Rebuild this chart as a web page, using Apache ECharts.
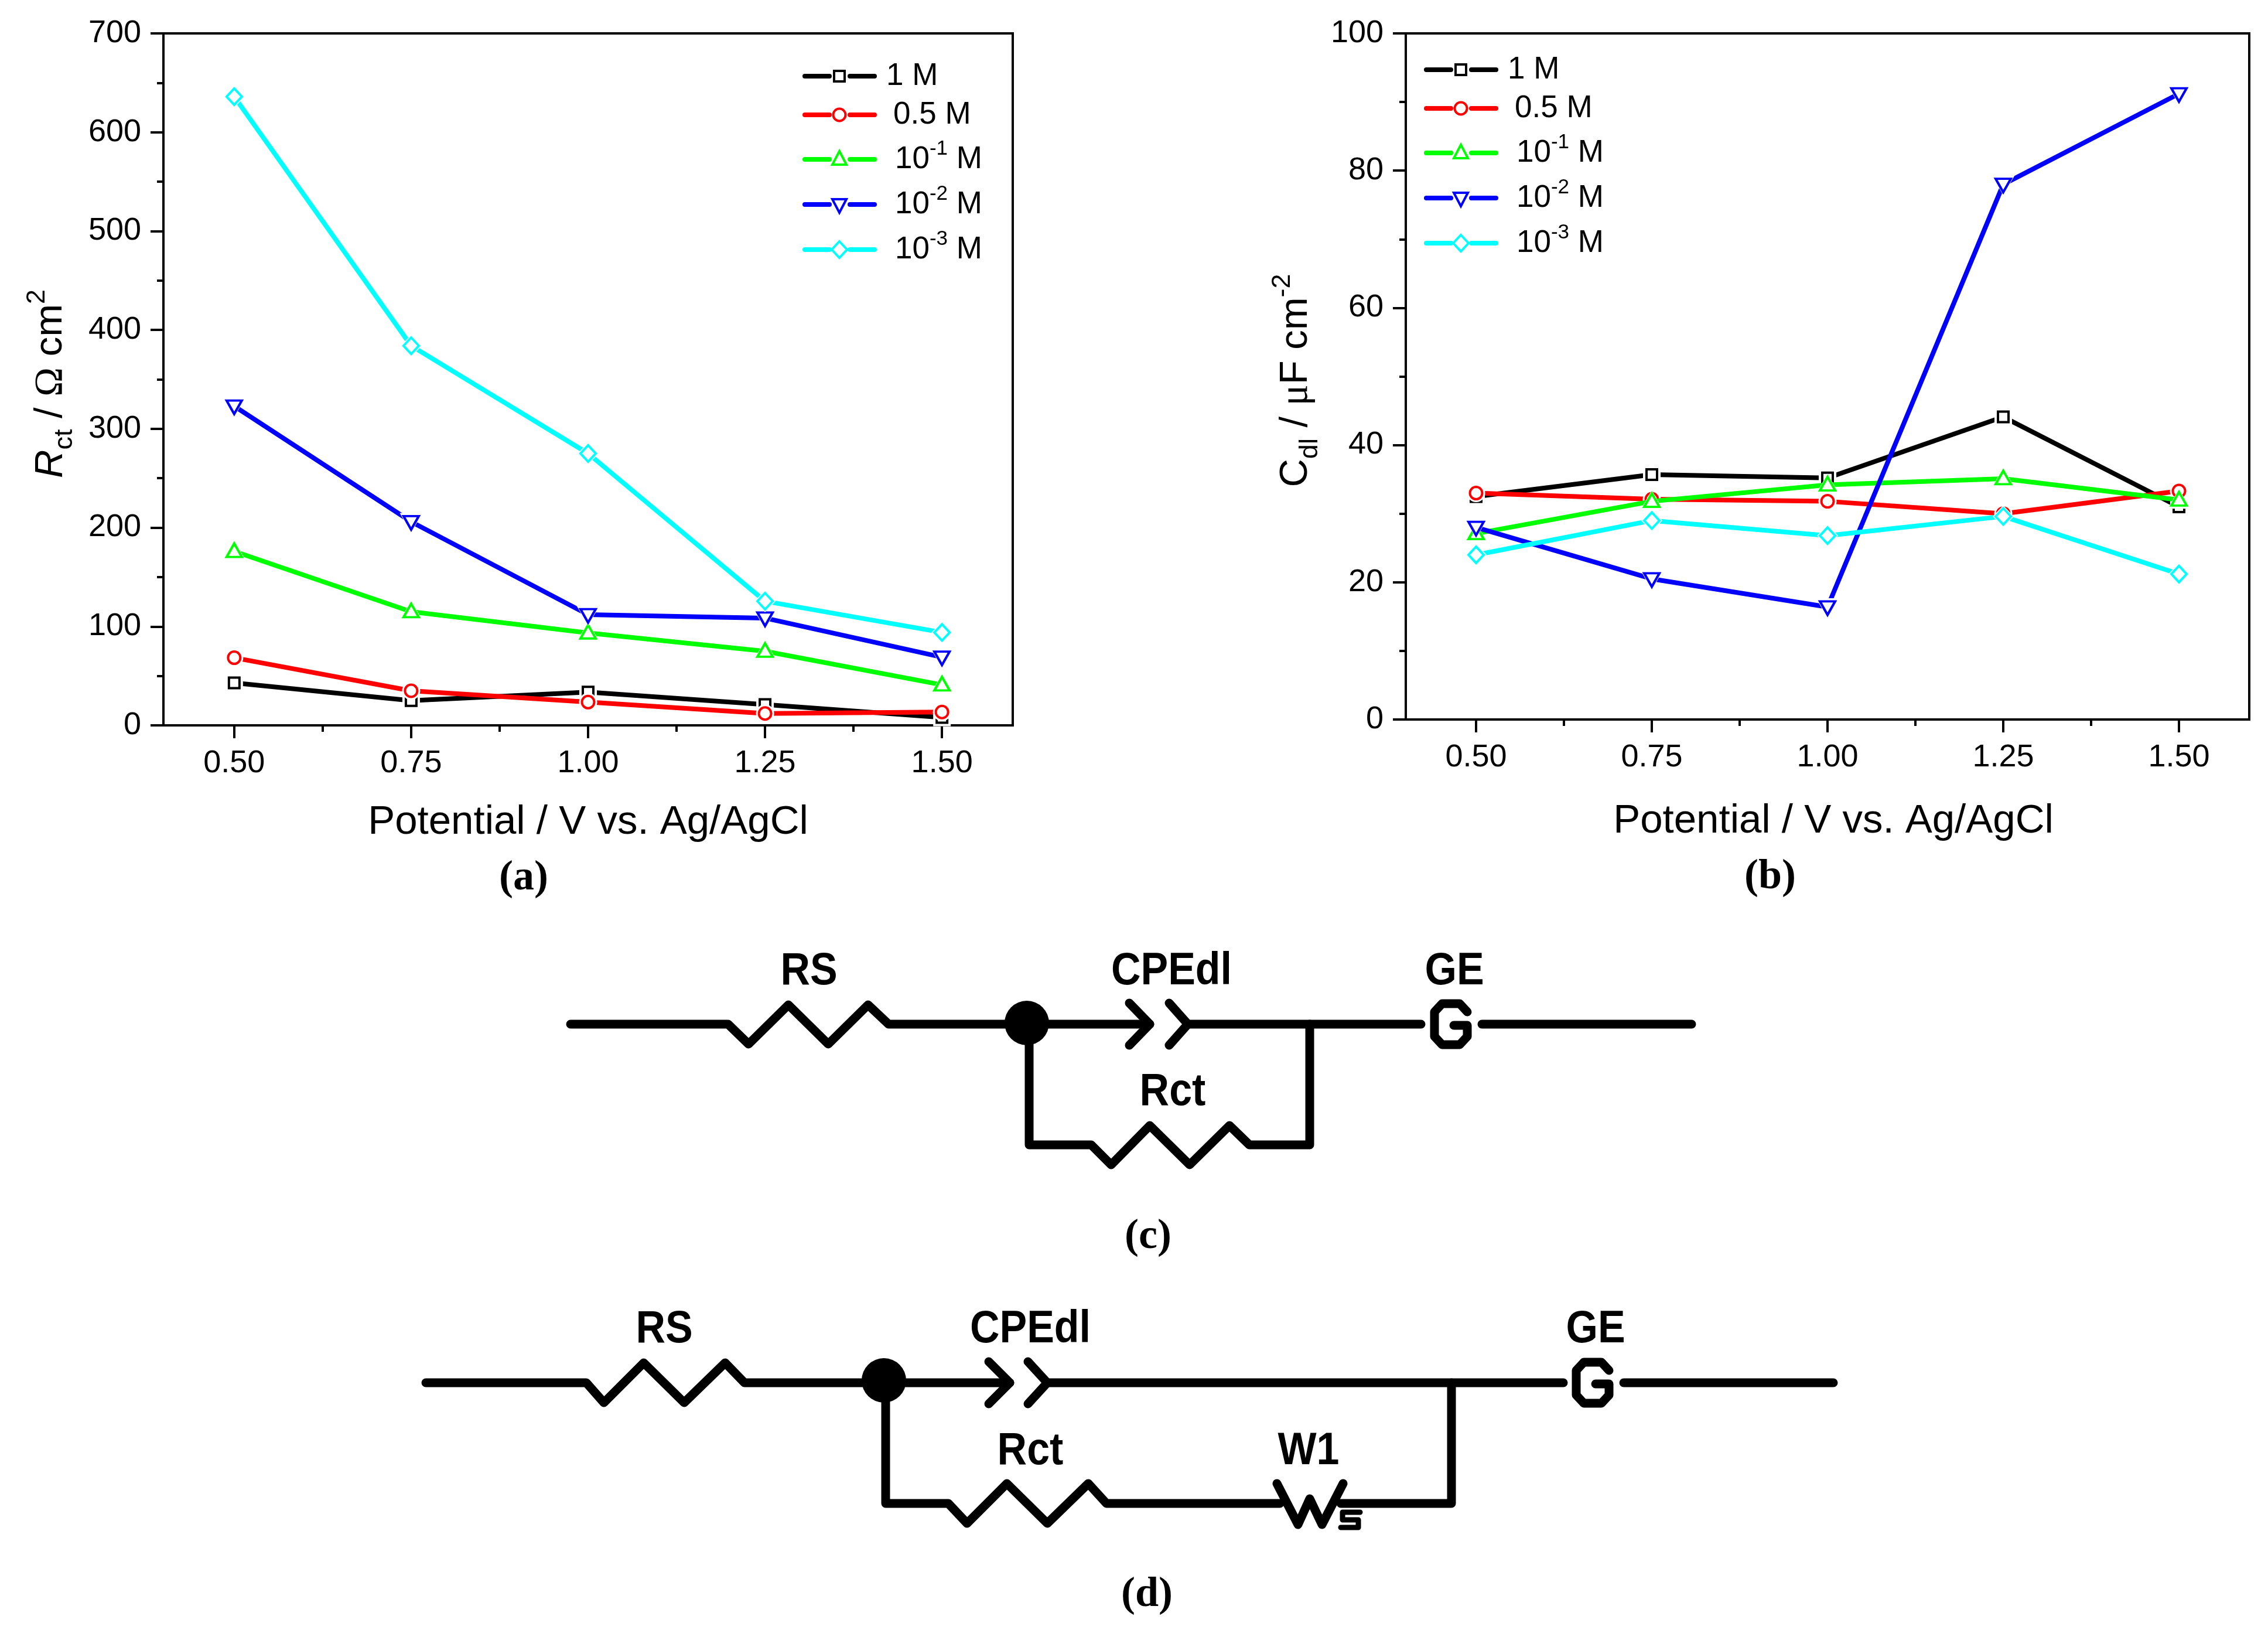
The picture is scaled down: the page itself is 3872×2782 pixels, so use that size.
<!DOCTYPE html>
<html>
<head>
<meta charset="utf-8">
<style>html,body{margin:0;padding:0;background:#fff}#c{width:3872px;height:2782px}</style>
<script src="https://cdn.jsdelivr.net/npm/echarts@6/dist/echarts.min.js"></script>
</head>
<body>
<div id="c"></div>
<script>
const potentials = [0.5, 0.75, 1.0, 1.25, 1.5];
const xTicks = [0.5, 0.75, 1.0, 1.25, 1.5];
const xMinorTicks = [0.625, 0.875, 1.125, 1.375];
const seriesNames = ['1 M', '0.5 M', '10-1 M', '10-2 M', '10-3 M'];
const seriesColors = ['#000000', '#ff0000', '#00ff00', '#0000ff', '#00ffff'];

const rct1M   = [43, 25, 33.6, 21, 8];
const rct05M  = [68.4, 35, 23.5, 12, 13.5];
const rct10m1 = [176, 115, 93.5, 75, 41];
const rct10m2 = [323, 206, 112, 108.5, 69];
const rct10m3 = [636, 384, 275, 125.6, 94];

const cdl1M   = [32.5, 35.7, 35.2, 44.1, 31];
const cdl05M  = [33, 32.1, 31.8, 30, 33.3];
const cdl10m1 = [27.1, 31.8, 34.2, 35.1, 32];
const cdl10m2 = [28, 20.5, 16.4, 78, 91.2];
const cdl10m3 = [24, 29, 26.8, 29.6, 21.2];

const rctValues = [rct1M, rct05M, rct10m1, rct10m2, rct10m3];
const cdlValues = [cdl1M, cdl05M, cdl10m1, cdl10m2, cdl10m3];

const symbols = [
  {symbol:'rect', size:[18,18], halo:[30,30], rotate:0, off:[0,0]},
  {symbol:'circle', size:[21,21], halo:[31,31], rotate:0, off:[0,0]},
  {symbol:'triangle', size:[26,23], halo:[39,34], rotate:0, off:[0,-2]},
  {symbol:'triangle', size:[26,23], halo:[39,34], rotate:180, off:[0,2]},
  {symbol:'diamond', size:[26,28], halo:[36,38], rotate:0, off:[0,0]}
];

const FONT = '"Liberation Sans", Arial, sans-serif';
const SERIF = '"Liberation Serif", "Times New Roman", serif';
const AXW = 4;

function pairs(vals){ return potentials.map((x,i)=>[x, vals[i]]); }

function buildSeries(values, axisIndex, names){
  const out = [];
  values.forEach((vals,i)=>{
    const s = symbols[i], z = 3 + i*3, col = seriesColors[i];
    out.push({type:'line', name:names[i], xAxisIndex:axisIndex*2, yAxisIndex:axisIndex, data:pairs(vals),
      showSymbol:false, symbol:'none', silent:true, z:z, animation:false,
      lineStyle:{color:col,width:8,cap:'round',join:'round'}});
    out.push({type:'scatter', name:names[i]+' halo', xAxisIndex:axisIndex*2, yAxisIndex:axisIndex, data:pairs(vals),
      symbol:s.symbol, symbolSize:s.halo, symbolRotate:s.rotate, symbolOffset:s.off, silent:true, z:z+1, animation:false,
      itemStyle:{color:'#ffffff',opacity:1}});
    out.push({type:'scatter', name:names[i]+' marker', xAxisIndex:axisIndex*2, yAxisIndex:axisIndex, data:pairs(vals),
      symbol:s.symbol, symbolSize:s.size, symbolRotate:s.rotate, symbolOffset:s.off, silent:true, z:z+2, animation:false,
      itemStyle:{color:'#ffffff',borderColor:col,borderWidth:4,opacity:1}});
  });
  return out;
}

const axisLine = {show:true,onZero:false,lineStyle:{color:'#000',width:AXW}};
function xAxes(gridIndex, namePad, gap){
  return [
    {type:'value',gridIndex,min:0.4,max:1.6,position:'bottom',
     axisLine,splitLine:{show:false},
     axisTick:{show:true,length:22,lineStyle:{color:'#000',width:AXW},customValues:xTicks},
     axisLabel:{show:true,customValues:xTicks,margin:38,color:'#000',fontFamily:FONT,fontSize:54,formatter:v=>v.toFixed(2),hideOverlap:false},
     name:'Potential / V vs. Ag/AgCl',nameLocation:'middle',nameGap:gap,nameMoveOverlap:false,
     nameTextStyle:{color:'#000',fontFamily:FONT,fontSize:69,padding:namePad}},
    {type:'value',gridIndex,min:0.4,max:1.6,position:'bottom',
     axisLine:{show:false},splitLine:{show:false},
     axisTick:{show:true,length:11,lineStyle:{color:'#000',width:AXW},customValues:xMinorTicks},
     axisLabel:{show:false}}
  ];
}
function yAxis(gridIndex,max,interval,name,rich,gap,pad){
  return {type:'value',gridIndex,min:0,max,interval,
    axisLine,splitLine:{show:false},
    axisTick:{show:true,length:22,lineStyle:{color:'#000',width:AXW}},
    minorTick:{show:true,splitNumber:2,length:11,lineStyle:{color:'#000',width:AXW}},
    minorSplitLine:{show:false},
    axisLabel:{margin:38,color:'#000',fontFamily:FONT,fontSize:54},
    name,nameLocation:'middle',nameGap:gap,nameRotate:90,nameMoveOverlap:false,
    nameTextStyle:{color:'#000',fontFamily:FONT,fontSize:67,rich,padding:pad}};
}
const nameRich = {
  n:{fontFamily:FONT,fontSize:67,lineHeight:92,color:'#000'},
  i:{fontFamily:FONT,fontSize:67,lineHeight:92,fontStyle:'italic',color:'#000'},
  g:{fontFamily:SERIF,fontSize:67,lineHeight:92,color:'#000'},
  sub:{fontFamily:FONT,fontSize:45,lineHeight:34,verticalAlign:'bottom',color:'#000'},
  sup:{fontFamily:FONT,fontSize:45,lineHeight:46,verticalAlign:'top',color:'#000'}
};

/* ---------- legend samples ---------- */
const legendRows = [0,66,142,219,296];
const legendTextX = [143,155,158,158,158];
const legendLabels = [['1 M',''],['0.5 M',''],['10','-1'],['10','-2'],['10','-3']];
function markerShape(i,cx,cy){
  const col = seriesColors[i];
  const st = {fill:'#fff',stroke:col,lineWidth:4};
  if(i===0) return {type:'rect',shape:{x:cx-9,y:cy-9,width:18,height:18},style:st};
  if(i===1) return {type:'circle',shape:{cx,cy,r:10.5},style:st};
  if(i===2) return {type:'polygon',shape:{points:[[cx,cy-14],[cx+12,cy+9],[cx-12,cy+9]]},style:st};
  if(i===3) return {type:'polygon',shape:{points:[[cx,cy+14],[cx+12,cy-9],[cx-12,cy-9]]},style:st};
  return {type:'polygon',shape:{points:[[cx,cy-14],[cx+13,cy],[cx,cy+14],[cx-13,cy]]},style:st};
}
function legendItems(x0,y0){
  const items=[];
  legendRows.forEach((dy,i)=>{
    const y=y0+dy, col=seriesColors[i], cx=x0+63;
    items.push({type:'line',shape:{x1:x0+4,y1:y,x2:x0+46,y2:y},style:{stroke:col,lineWidth:8,lineCap:'round'},z:50});
    items.push({type:'line',shape:{x1:x0+81,y1:y,x2:x0+123,y2:y},style:{stroke:col,lineWidth:8,lineCap:'round'},z:50});
    const m=markerShape(i,cx,y); m.z=51; items.push(m);
    const [a,b]=legendLabels[i];
    const text = b? `{n|${a}}{s|${b}}{n| M}` : `{n|${a}}`;
    items.push({type:'text',x:x0+legendTextX[i],y,z:52,style:{text,verticalAlign:'middle',align:'left',
      rich:{n:{fontFamily:FONT,fontSize:53,lineHeight:70,fill:'#000'},s:{fontFamily:FONT,fontSize:35,lineHeight:34,verticalAlign:'top',fill:'#000'}}}});
  });
  return items;
}

/* ---------- circuit schematics ---------- */
const W = 15;
function pl(points,lw){ return {type:'polyline',shape:{points},z:40,style:{stroke:'#000',fill:null,lineWidth:lw||W,lineCap:'round',lineJoin:'round'}}; }
function lbl(text,x,y,fs){ return {type:'text',x,y,scaleY:1.12,z:45,style:{text,align:'center',verticalAlign:'middle',fontFamily:FONT,fontWeight:'bold',fontSize:fs||70,fill:'#000'}}; }
function cap(text,x,y){ return {type:'text',x,y,z:45,style:{text,align:'center',verticalAlign:'middle',fontFamily:SERIF,fontWeight:'bold',fontSize:72,fill:'#000'}}; }
function node(cx,cy){ return {type:'circle',shape:{cx,cy,r:38},z:41,style:{fill:'#000'}}; }

const circuitC = [
  pl([[974,1748],[1243,1748],[1278,1782],[1346,1715],[1414,1782],[1482,1715],[1517,1748],[1963,1748]]),
  pl([[1928,1712],[1963,1748],[1928,1784]]),
  pl([[1996,1712],[2028,1748],[1996,1784]]),
  pl([[2028,1748],[2426,1748]]),
  pl([[2505,1727],[2492,1713],[2462,1713],[2449,1727],[2449,1769],[2462,1783],[2492,1783],[2505,1769],[2505,1750],[2482,1750]]),
  pl([[2530,1748],[2888,1748]]),
  pl([[1757,1748],[1757,1954],[1863,1954],[1897,1988],[1963,1921],[2031,1988],[2099,1921],[2133,1954],[2236,1954],[2236,1748]]),
  node(1753,1746),
  lbl('RS',1381,1658),lbl('CPEdl',2000,1658),lbl('GE',2483,1658),lbl('Rct',2002,1864),
  cap('(c)',1960,2111)
];
const circuitD = [
  pl([[727,2360],[1001,2360],[1031,2394],[1099,2326],[1168,2394],[1238,2326],[1271,2360],[1724,2360]]),
  pl([[1688,2324],[1724,2360],[1688,2396]]),
  pl([[1755,2324],[1788,2360],[1755,2396]]),
  pl([[1788,2360],[2669,2360]]),
  pl([[2747,2339],[2734,2325],[2704,2325],[2691,2339],[2691,2381],[2704,2395],[2734,2395],[2747,2381],[2747,2362],[2724,2362]]),
  pl([[2772,2360],[3130,2360]]),
  pl([[1512,2360],[1512,2566],[1619,2566],[1651,2600],[1719,2532],[1788,2600],[1858,2532],[1889,2566],[2185,2566]]),
  pl([[2180,2532],[2216,2602],[2236,2558],[2257,2602],[2293,2532]]),
  pl([[2289,2566],[2478,2566],[2478,2360]]),
  pl([[2322,2581],[2292,2581],[2292,2594],[2319,2594],[2319,2607],[2289,2607]],9),
  node(1509,2356),
  lbl('RS',1134,2269),lbl('CPEdl',1759,2269),lbl('GE',2724,2269),lbl('Rct',1759,2477),lbl('W1',2234,2477),
  cap('(d)',1958,2722)
];
const panelCaps = [cap('(a)',894,1499),cap('(b)',3022,1497)];

const grids = [
  {left:279,top:57,width:1450,height:1181,show:true,borderColor:'#000',borderWidth:AXW,backgroundColor:'transparent',outerBoundsMode:'none'},
  {left:2400,top:57,width:1440,height:1171,show:true,borderColor:'#000',borderWidth:AXW,backgroundColor:'transparent',outerBoundsMode:'none'}
];

const option = {
  backgroundColor:'#fff',
  animation:false,
  grid:grids,
  xAxis:[...xAxes(0,[0,0,0,0],131),...xAxes(1,[0,0,0,20],139)],
  yAxis:[
    yAxis(0,700,100,'{i|R}{sub|ct}{n| / }{g|Ω}{n| cm}{sup|2}',nameRich,146,[0,15,0,0]),
    yAxis(1,100,20,'{n|C}{sub|dl}{n| / }{g|μ}{n|F cm}{sup|-2}',nameRich,141,[0,14,0,0])
  ],
  series:[...buildSeries(rctValues,0,seriesNames),...buildSeries(cdlValues,1,seriesNames)],
  graphic:{elements:[...legendItems(1370,130),...legendItems(2431,119),...circuitC,...circuitD,...panelCaps]}
};
const chart = echarts.init(document.getElementById('c'),null,{renderer:'canvas',width:3872,height:2782});
chart.setOption(option);
</script>
</body>
</html>
